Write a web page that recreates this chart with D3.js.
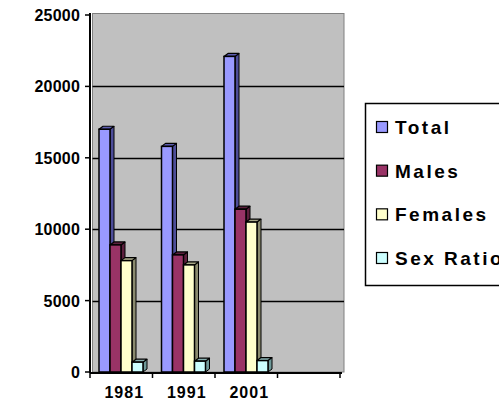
<!DOCTYPE html>
<html>
<head>
<meta charset="utf-8">
<script src="https://cdn.jsdelivr.net/npm/d3@7/dist/d3.min.js"></script>
<style>
  html, body { margin: 0; padding: 0; background: #fff; }
  svg { display: block; }
  text { font-family: "Liberation Sans", Arial, sans-serif; font-weight: bold; fill: #000; }
</style>
</head>
<body>
<svg id="chart" width="499" height="403"></svg>
<script>
const categories = ["1981", "1991", "2001", ""];
const seriesNames = ["Total", "Males", "Females", "Sex Ratio"];
const totalValues = [17000, 15800, 22100];
const malesValues = [8900, 8200, 11400];
const femalesValues = [7800, 7500, 10500];
const sexRatioValues = [690, 760, 800];
const yTicks = [0, 5000, 10000, 15000, 20000, 25000];

const frontColors = ["#9999FF", "#993366", "#FFFFCC", "#CCFFFF"];
const sideColors = ["#4d4d99", "#5c1f3d", "#8a8a6e", "#6e9999"];
const topColors = ["#5c5cb0", "#5c1f3d", "#a8a888", "#88b0b0"];

const series = [totalValues, malesValues, femalesValues, sexRatioValues];

const svg = d3.select("#chart");
const pLeft = 90, pRight = 340, pTop = 15, pBottom = 372;

const x = d3.scaleBand().domain(d3.range(categories.length)).range([pLeft, pRight]).padding(0);
const y = d3.scaleLinear().domain([0, 25000]).range([pBottom, pTop]);

// plot area (back wall)
svg.append("rect")
  .attr("x", pLeft + 2.5).attr("y", pTop - 1.5)
  .attr("width", 344 - pLeft - 2.5).attr("height", pBottom - pTop + 1.5)
  .attr("fill", "#C0C0C0").attr("stroke", "#808080").attr("stroke-width", 1);

// gridlines
svg.append("g").selectAll("line")
  .data(yTicks.filter(d => d > 0 && d < 25000))
  .join("line")
  .attr("x1", pLeft + 2.5).attr("x2", 344)
  .attr("y1", d => Math.round(y(d)) + 0.5).attr("y2", d => Math.round(y(d)) + 0.5)
  .attr("stroke", "#000").attr("stroke-width", 1.5);

// bars
const dx = 4, dy = 3;
const inner = d3.scaleBand().domain(d3.range(4)).range([9, 53]).padding(0);
const bw = inner.bandwidth();

for (let c = 0; c < 3; c++) {
  series.forEach((vals, s) => {
    const g = svg.append("g");
    const x0 = x(c) + inner(s);
    const y0 = y(vals[c]);
    const yb = y(0);
    g.append("path")
      .attr("d", `M${x0 + bw},${y0} L${x0 + bw + dx},${y0 - dy} L${x0 + bw + dx},${yb - dy} L${x0 + bw},${yb} Z`)
      .attr("fill", sideColors[s]).attr("stroke", "#000").attr("stroke-width", 1).attr("stroke-linejoin", "round");
    g.append("path")
      .attr("d", `M${x0},${y0} L${x0 + dx},${y0 - dy} L${x0 + bw + dx},${y0 - dy} L${x0 + bw},${y0} Z`)
      .attr("fill", topColors[s]).attr("stroke", "#000").attr("stroke-width", 1.2).attr("stroke-linejoin", "round");
    g.append("rect")
      .attr("x", x0).attr("y", y0)
      .attr("width", bw).attr("height", yb - y0)
      .attr("fill", frontColors[s]).attr("stroke", "#000").attr("stroke-width", 1.5);
  });
}

// y axis
svg.append("line").attr("x1", pLeft).attr("x2", pLeft)
  .attr("y1", pTop - 2).attr("y2", pBottom + 1)
  .attr("stroke", "#000").attr("stroke-width", 2);
const yg = svg.append("g");
yg.selectAll("line").data(yTicks).join("line")
  .attr("x1", pLeft - 5).attr("x2", pLeft)
  .attr("y1", d => y(d)).attr("y2", d => y(d))
  .attr("stroke", "#000").attr("stroke-width", 1.5);
yg.selectAll("text").data(yTicks).join("text")
  .attr("x", 80).attr("y", d => y(d) + 6)
  .attr("text-anchor", "end")
  .style("font-size", "16px").style("letter-spacing", "0.2px")
  .text(d => d);

// x axis
svg.append("line").attr("x1", pLeft).attr("x2", 342)
  .attr("y1", pBottom + 1).attr("y2", pBottom + 1)
  .attr("stroke", "#000").attr("stroke-width", 2);
const xg = svg.append("g");
xg.selectAll("line").data(d3.range(categories.length + 1)).join("line")
  .attr("x1", i => pLeft + i * x.bandwidth()).attr("x2", i => pLeft + i * x.bandwidth())
  .attr("y1", pBottom + 1).attr("y2", pBottom + 6)
  .attr("stroke", "#000").attr("stroke-width", 1.5);
xg.selectAll("text").data(categories).join("text")
  .attr("x", (d, i) => x(i) + x.bandwidth() / 2 + 3)
  .attr("y", 398)
  .attr("text-anchor", "middle")
  .style("font-size", "16px").style("letter-spacing", "1px")
  .text(d => d);

// legend
const lg = svg.append("g");
lg.append("rect").attr("x", 365.5).attr("y", 103.5).attr("width", 150).attr("height", 182)
  .attr("fill", "#fff").attr("stroke", "#000").attr("stroke-width", 1.5);
const rowY = d3.scalePoint().domain(seriesNames).range([127, 258]);
seriesNames.forEach((name, i) => {
  lg.append("rect").attr("x", 376.5).attr("y", rowY(name) - 5.5).attr("width", 11).attr("height", 11)
    .attr("fill", frontColors[i]).attr("stroke", "#000").attr("stroke-width", 1.2);
  lg.append("text").attr("x", 395).attr("y", rowY(name) + 7)
    .style("font-size", "19px").style("letter-spacing", "2.5px")
    .text(name);
});
</script>
</body>
</html>
